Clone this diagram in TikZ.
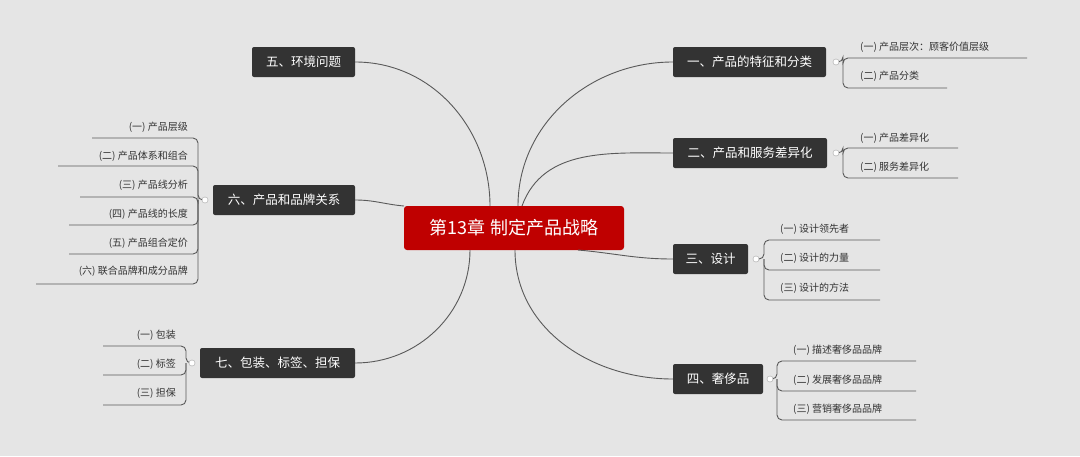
\documentclass[tikz,border=0pt]{standalone}
\usepackage{fontspec}
\setmainfont{Noto Sans CJK SC}
\begin{document}
\begin{tikzpicture}[x=1pt,y=-1pt,
  br/.style={fill=black!80,text=white,rounded corners=2pt,font=\fontsize{12.5}{14}\selectfont,minimum height=30pt,inner xsep=7pt},
  leafR/.style={anchor=west,text=black!80,font=\fontsize{10}{12}\selectfont,inner sep=0pt},
  leafL/.style={anchor=east,text=black!80,font=\fontsize{10}{12}\selectfont,inner sep=0pt},
  ln/.style={draw=black!65,line width=0.9pt},
  dotc/.style={circle,fill=white,draw=black!30,inner sep=0pt,minimum size=6pt}]
\fill[black!10] (0,0) rectangle (1080,456);
\useasboundingbox (0,0) rectangle (1080,456);
% center
\node[fill=red!75!black,text=white,rounded corners=3pt,minimum width=220pt,minimum height=44pt,font=\fontsize{18}{20}\selectfont] (c) at (514,228) {第13章 制定产品战略};
% branches
\node[br,minimum width=153pt] (b1) at (749.5,62) {一、产品的特征和分类};
\node[br,minimum width=154pt] (b2) at (750,153) {二、产品和服务差异化};
\node[br,minimum width=75pt] (b3) at (710.5,259) {三、设计};
\node[br,minimum width=90pt] (b4) at (718,379) {四、奢侈品};
\node[br,minimum width=103pt] (b5) at (303.5,62) {五、环境问题};
\node[br,minimum width=142pt] (b6) at (284,200) {六、产品和品牌关系};
\node[br,minimum width=155pt] (b7) at (277.5,363) {七、包装、标签、担保};
% connectors
\coordinate (c1) at (518,206); \coordinate (c2) at (522,206);
\coordinate (c3) at (578,250); \coordinate (c4) at (515,250);
\coordinate (c5) at (490,206); \coordinate (c6) at (404,206);
\coordinate (c7) at (470,250);
\draw[ln] (c1) to[out=90,in=180] (b1.west);
\draw[ln] (c2) to[out=70,in=180] (b2.west);
\draw[ln] (c3) to[out=-5,in=180] (b3.west);
\draw[ln] (c4) to[out=-90,in=180] (b4.west);
\draw[ln] (b5.east) to[out=0,in=90] (c5);
\draw[ln] (b6.east) to[out=0,in=175] (c6);
\draw[ln] (b7.east) to[out=0,in=-90] (c7);
% leaf macro-free drawing
% b1
\node[dotc] (d1) at (836,62) {};
\node[leafR] (l11) at (860,47) {(一) 产品层次：顾客价值层级};
\node[leafR] (l12) at (860,76) {(二) 产品分类};
\draw[ln,rounded corners=5pt] (d1.east) -- (843,62) |- (1027,58);
\draw[ln,rounded corners=5pt] (843,62) |- (947,88);
% b2
\node[dotc] (d2) at (836,153) {};
\node[leafR] (l21) at (860,138) {(一) 产品差异化};
\node[leafR] (l22) at (860,167) {(二) 服务差异化};
\draw[ln,rounded corners=5pt] (d2.east) -- (843,153) |- (958,148);
\draw[ln,rounded corners=5pt] (843,153) |- (958,178);
% b3
\node[dotc] (d3) at (756,259) {};
\node[leafR] (l31) at (780,229) {(一) 设计领先者};
\node[leafR] (l32) at (780,258) {(二) 设计的力量};
\node[leafR] (l33) at (780,288) {(三) 设计的方法};
\draw[ln,rounded corners=5pt] (d3.east) -- (764,259) |- (880,240);
\draw[ln,rounded corners=5pt] (764,259) |- (880,270);
\draw[ln,rounded corners=5pt] (764,259) |- (880,300);
% b4
\node[dotc] (d4) at (770,379) {};
\node[leafR] (l41) at (793,350) {(一) 描述奢侈品品牌};
\node[leafR] (l42) at (793,380) {(二) 发展奢侈品品牌};
\node[leafR] (l43) at (793,409) {(三) 营销奢侈品品牌};
\draw[ln,rounded corners=5pt] (d4.east) -- (777,379) |- (916,361);
\draw[ln,rounded corners=5pt] (777,379) |- (916,391);
\draw[ln,rounded corners=5pt] (777,379) |- (916,420);
% b6
\node[dotc] (d6) at (205,200) {};
\node[leafL] at (188,127) {(一) 产品层级};
\node[leafL] at (188,156) {(二) 产品体系和组合};
\node[leafL] at (188,185) {(三) 产品线分析};
\node[leafL] at (188,214) {(四) 产品线的长度};
\node[leafL] at (188,243) {(五) 产品组合定价};
\node[leafL] at (188,271) {(六) 联合品牌和成分品牌};
\draw[ln,rounded corners=5pt] (d6.west) -- (198,200) |- (92,138);
\draw[ln,rounded corners=5pt] (198,200) |- (58,166);
\draw[ln,rounded corners=5pt] (198,200) |- (80,197);
\draw[ln,rounded corners=5pt] (198,200) |- (69,225);
\draw[ln,rounded corners=5pt] (198,200) |- (69,254);
\draw[ln,rounded corners=5pt] (198,200) |- (36,284);
% b7
\node[dotc] (d7) at (192,363) {};
\node[leafL] at (176,335) {(一) 包装};
\node[leafL] at (176,364) {(二) 标签};
\node[leafL] at (176,393) {(三) 担保};
\draw[ln,rounded corners=5pt] (d7.west) -- (186,363) |- (103,346);
\draw[ln,rounded corners=5pt] (186,363) |- (103,375);
\draw[ln,rounded corners=5pt] (186,363) |- (103,405);
% redraw dots above lines
\foreach \d/\p in {d1/{(836,62)},d2/{(836,153)},d3/{(756,259)},d4/{(770,379)},d6/{(205,200)},d7/{(192,363)}}
  \node[dotc] at \p {};
\end{tikzpicture}
\end{document}
